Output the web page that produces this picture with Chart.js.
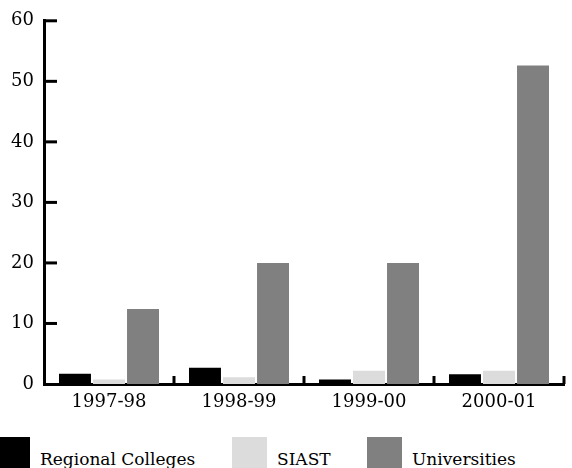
<!DOCTYPE html>
<html>
<head>
<meta charset="utf-8">
<script src="https://cdn.jsdelivr.net/npm/chart.js@4.4.1/dist/chart.umd.min.js"></script>
<style>
  html, body { margin: 0; padding: 0; background: #fff; }
  #wrap { position: relative; width: 572px; height: 468px; overflow: hidden; }
  #box { position: absolute; left: 0; top: 0; width: 572px; height: 425px; }
  .item { position: absolute; top: 437px; height: 31px; font-family: "DejaVu Serif", serif; font-size: 17px; color: #000; }
  .item span.sw { position: absolute; left: 0; top: 0; width: 35px; height: 31px; }
  .item span.tx { position: absolute; left: 45px; top: 10px; white-space: nowrap; line-height: 24px; }
</style>
</head>
<body>
<div id="wrap">
  <div id="box"><canvas id="c"></canvas></div>
  <div id="legend"></div>
</div>
<script>
const years = ['1997-98', '1998-99', '1999-00', '2000-01'];
const regionalColleges = [1.7, 2.7, 0.75, 1.6];
const siast = [0.75, 1.1, 2.2, 2.2];
const universities = [12.4, 20, 20, 52.6];
const yTicks = [0, 10, 20, 30, 40, 50, 60];

const colors = ['#000000', '#dcdcdc', '#808080'];
const names = ['Regional Colleges', 'SIAST', 'Universities'];
const legendLeft = [-5, 232, 367];
const tickFont = { family: 'DejaVu Serif', size: 18, weight: 'normal' };

// inward tick marks on both axes
const inwardTicks = {
  id: 'inwardTicks',
  afterDraw(chart) {
    const ctx = chart.ctx;
    const x = chart.scales.x, y = chart.scales.y;
    ctx.save();
    ctx.strokeStyle = '#000';
    ctx.lineWidth = 3;
    yTicks.forEach(v => {
      if (v === 0) return;
      const py = y.getPixelForValue(v);
      ctx.beginPath();
      ctx.moveTo(x.left, py);
      ctx.lineTo(x.left + 13, py);
      ctx.stroke();
    });
    for (let i = 0; i < years.length; i++) {
      const px = x.getPixelForValue(i + 0.5);
      ctx.beginPath();
      ctx.moveTo(px, y.bottom);
      ctx.lineTo(px, y.bottom - 8);
      ctx.stroke();
    }
    ctx.restore();
  }
};

new Chart(document.getElementById('c'), {
  type: 'bar',
  data: {
    labels: years,
    datasets: [regionalColleges, siast, universities].map((d, i) => ({
      label: names[i],
      data: d,
      backgroundColor: colors[i],
      borderWidth: 0,
      categoryPercentage: 0.785,
      barPercentage: 0.94
    }))
  },
  options: {
    responsive: true,
    maintainAspectRatio: false,
    animation: false,
    layout: { padding: { top: 20, right: 8, left: 0, bottom: 0 } },
    plugins: { legend: { display: false }, tooltip: { enabled: false } },
    scales: {
      x: {
        offset: true,
        grid: { display: false, drawTicks: false },
        border: { display: true, color: '#000', width: 3 },
        ticks: { color: '#000', padding: 8, font: tickFont },
        afterFit(s) { s.height = 41; }
      },
      y: {
        min: 0,
        max: 60,
        afterBuildTicks(s) { s.ticks = yTicks.map(v => ({ value: v })); },
        grid: { display: false, drawTicks: false },
        border: { display: true, color: '#000', width: 3 },
        ticks: { color: '#000', padding: 10, font: tickFont },
        afterFit(s) { s.width = 44; }
      }
    }
  },
  plugins: [inwardTicks]
});

const legend = document.getElementById('legend');
names.forEach((n, i) => {
  const d = document.createElement('div');
  d.className = 'item';
  d.style.left = legendLeft[i] + 'px';
  d.innerHTML = '<span class="sw" style="background:' + colors[i] + '"></span><span class="tx">' + n + '</span>';
  legend.appendChild(d);
});
</script>
</body>
</html>
